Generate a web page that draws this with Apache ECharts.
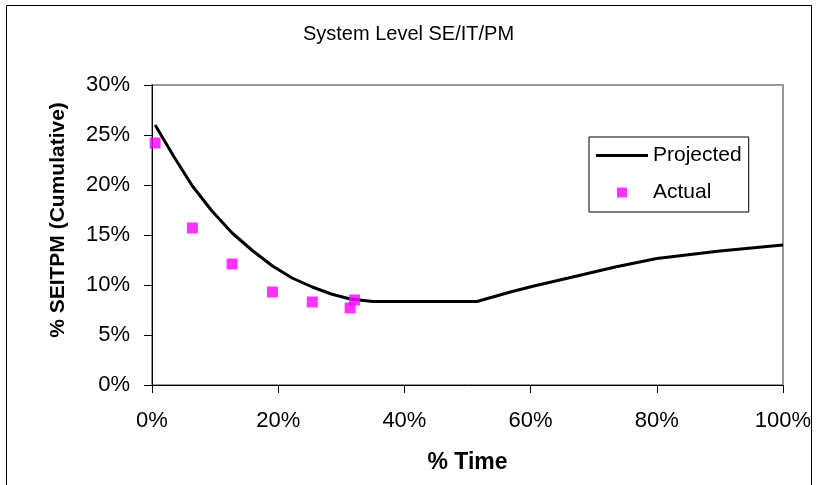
<!DOCTYPE html>
<html>
<head>
<meta charset="utf-8">
<script src="https://cdn.jsdelivr.net/npm/echarts@6/dist/echarts.min.js"></script>
<style>
  html, body { margin: 0; padding: 0; background: #fff; }
  #chart { width: 817px; height: 485px; }
</style>
</head>
<body>
<div id="chart"></div>
<script>
// values (x = % time, y = % SEITPM cumulative)
var projectedX = [0.5, 3.5, 6.4, 9.5, 12.7, 16, 19.1, 22.2, 25.4, 28.4, 31.4, 35, 50, 51.5, 56.8, 60.2, 66, 73.4, 80, 90, 100];
var projectedY = [26, 22.8, 19.9, 17.4, 15.2, 13.4, 11.9, 10.7, 9.8, 9.1, 8.6, 8.35, 8.35, 8.35, 9.3, 9.85, 10.7, 11.8, 12.65, 13.4, 14];
var actualX = [0.5, 6.4, 12.7, 19.1, 25.4, 31.4, 32.1];
var actualY = [24.2, 15.7, 12.1, 9.3, 8.3, 7.7, 8.5];
var xTicks = [0, 20, 40, 60, 80, 100];
var yTicks = [0, 5, 10, 15, 20, 25, 30];

var font = '"Liberation Sans", Arial, sans-serif';
var chart = echarts.init(document.getElementById('chart'));

function pairs(xs, ys) {
  return xs.map(function (x, i) { return [x, ys[i]]; });
}

var option = {
  backgroundColor: '#fff',
  animation: false,
  title: {
    text: 'System Level SE/IT/PM',
    left: 'center',
    top: 19,
    textStyle: { fontFamily: font, fontSize: 20, fontWeight: 'normal', color: '#000' }
  },
  graphic: [{
    type: 'rect',
    shape: { x: 6.5, y: 5.5, width: 805, height: 490 },
    style: { fill: 'none', stroke: '#000', lineWidth: 1 },
    silent: true
  }],
  legend: {
    orient: 'vertical',
    left: 589,
    top: 137,
    padding: [8, 7, 9, 7],
    itemGap: 16,
    itemWidth: 52,
    itemHeight: 10,
    borderColor: '#000',
    borderWidth: 1,
    backgroundColor: '#fff',
    textStyle: { fontFamily: font, fontSize: 21, color: '#000' },
    data: [
      { name: 'Projected', icon: 'path://M0,0h52v3h-52z' },
      { name: 'Actual', icon: 'path://M0,0h10v10h-10z' }
    ]
  },
  grid: { left: 152, right: 34, top: 85, bottom: 100, show: true, borderColor: '#999', borderWidth: 2, backgroundColor: '#fff' },
  xAxis: {
    type: 'value',
    min: xTicks[0],
    max: xTicks[xTicks.length - 1],
    interval: 20,
    name: '% Time',
    nameLocation: 'middle',
    nameGap: 66,
    nameTextStyle: { fontFamily: font, fontSize: 23, fontWeight: 'bold', color: '#000' },
    axisLine: { lineStyle: { color: '#000', width: 1 } },
    axisTick: { length: 8, lineStyle: { color: '#000' } },
    axisLabel: { formatter: '{value}%', margin: 25, fontFamily: font, fontSize: 22, color: '#000' },
    splitLine: { show: false }
  },
  yAxis: {
    type: 'value',
    min: yTicks[0],
    max: yTicks[yTicks.length - 1],
    interval: 5,
    name: '% SEITPM (Cumulative)',
    nameLocation: 'middle',
    nameGap: 83,
    nameRotate: 90,
    nameTextStyle: { fontFamily: font, fontSize: 21, fontWeight: 'bold', color: '#000', padding: [0, 0, 0, 30] },
    axisLine: { show: true, lineStyle: { color: '#000', width: 1 } },
    axisTick: { show: true, length: 8, lineStyle: { color: '#000' } },
    axisLabel: { formatter: '{value}%', margin: 22, fontFamily: font, fontSize: 22, color: '#000' },
    splitLine: { show: false }
  },
  series: [
    {
      name: 'Projected',
      type: 'line',
      symbol: 'none',
      lineStyle: { color: '#000', width: 3 },
      itemStyle: { color: '#000' },
      data: pairs(projectedX, projectedY),
      z: 2
    },
    {
      name: 'Actual',
      type: 'scatter',
      symbol: 'rect',
      symbolSize: 11,
      itemStyle: { color: '#ff00ff' },
      data: pairs(actualX, actualY),
      z: 3
    }
  ]
};
chart.setOption(option);
</script>
</body>
</html>
